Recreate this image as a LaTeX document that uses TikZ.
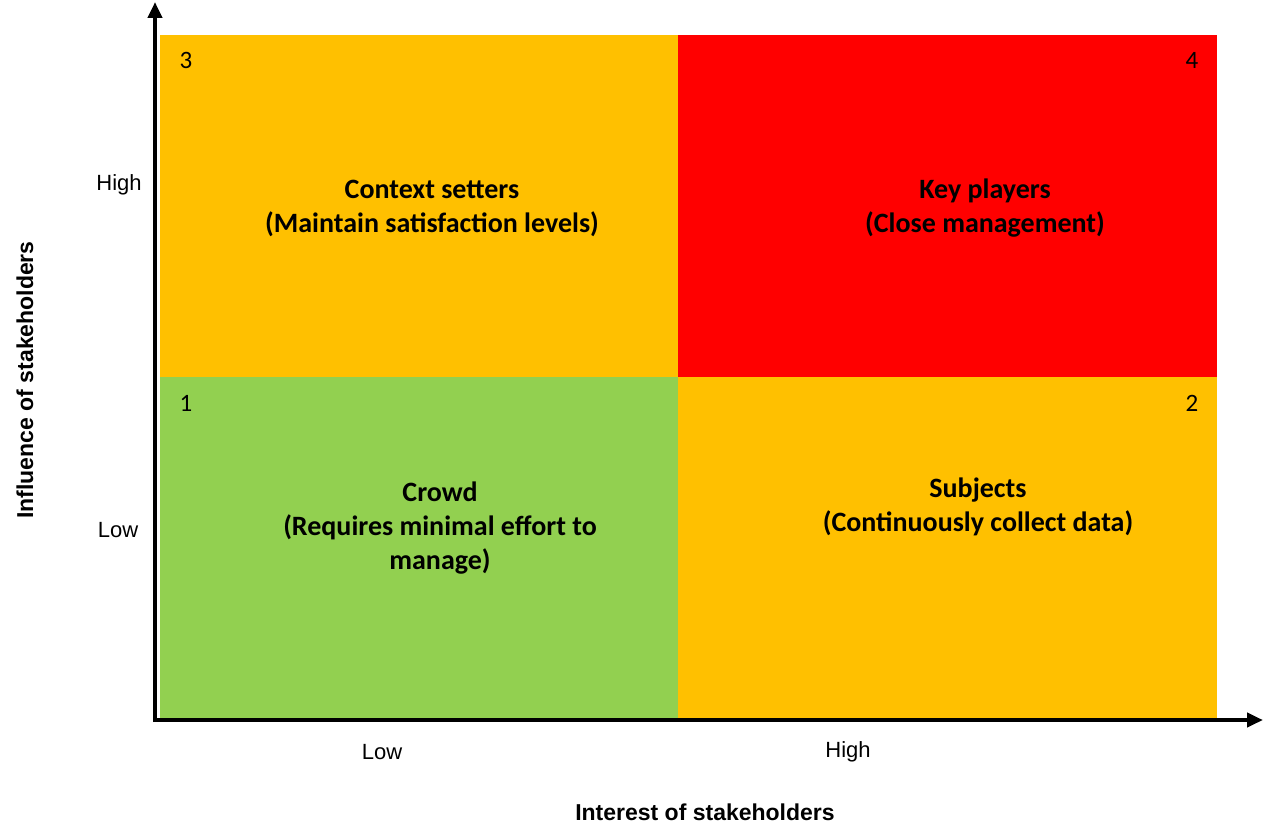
\documentclass[tikz,border=0pt]{standalone}
\usepackage{fontspec}
\setmainfont{Carlito}
\newfontfamily\axf{Liberation Sans}
\usetikzlibrary{arrows.meta}
\definecolor{org}{HTML}{FFC000}
\definecolor{rd}{HTML}{FF0000}
\definecolor{grn}{HTML}{92D050}
\begin{document}
\begin{tikzpicture}[x=1pt,y=-1pt,
 quad/.style={draw=none},
 big/.style={font=\fontsize{28}{34}\selectfont\bfseries,align=center},
 num/.style={font=\fontsize{25}{30}\selectfont},
 tick/.style={font=\axf\fontsize{22}{26}\selectfont},
 ttl/.style={font=\axf\fontsize{23}{28}\selectfont\bfseries},
 axis/.style={line width=4pt,-{Triangle[length=16pt,width=14pt]}}]
\useasboundingbox (0,0) rectangle (1265,832);
\fill[org] (160,35) rectangle (678,377);
\fill[rd] (678,35) rectangle (1217,377);
\fill[grn] (160,377) rectangle (678,718);
\fill[org] (678,377) rectangle (1217,718);
\node[big] (cs) at (432,208) {Context setters\\(Maintain satisfaction levels)};
\node[big] (kp) at (985,208) {Key players\\(Close management)};
\node[big] (cr) at (440,528) {Crowd\\(Requires minimal effort to\\manage)};
\node[big] (sb) at (978,507) {Subjects\\(Continuously collect data)};
\node[num] (n3) at (186,60) {3};
\node[num] (n4) at (1192,60) {4};
\node[num] (n1) at (186,403) {1};
\node[num] (n2) at (1192,403) {2};
\coordinate (o) at (155,720);
\coordinate (ytop) at (155,2);
\coordinate (xend) at (1263,720);
\draw[axis] (155,722) -- (ytop);
\draw[axis] (153,720) -- (xend);
\node[tick] (yh) at (119,185) {High};
\node[tick] (yl) at (118,530) {Low};
\node[tick] (xl) at (382,752) {Low};
\node[tick] (xh) at (848,752) {High};
\node[ttl] (xt) at (705,812) {Interest of stakeholders};
\node[ttl,rotate=90] (yt) at (25,380) {Influence of stakeholders};
\end{tikzpicture}
\end{document}
